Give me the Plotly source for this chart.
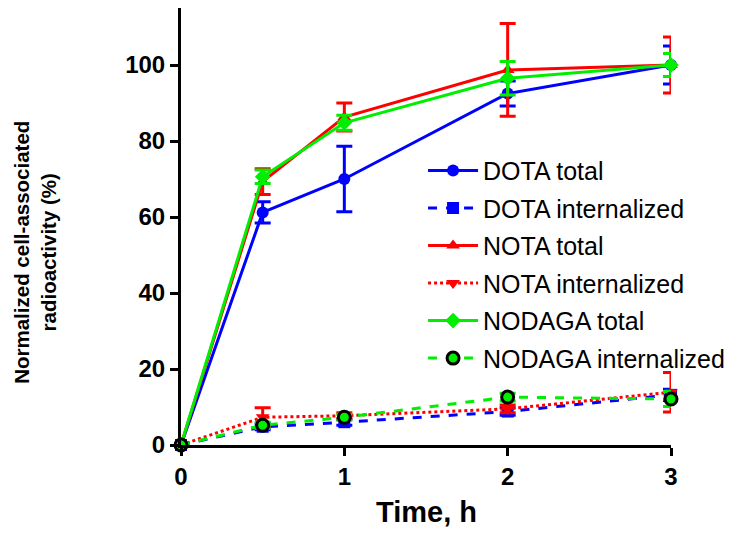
import plotly.graph_objects as go

time_h = [0, 0.5, 1, 2, 3]

dota_total = [0, 61.2, 70.0, 92.5, 100]
dota_total_err = [0, 2.8, 8.6, 3.3, 5.0]
dota_int = [0, 4.8, 6.0, 8.8, 13.2]
dota_int_err = [0, 0.8, 0.8, 1.0, 1.5]

nota_total = [0, 69.3, 86.3, 98.7, 100]
nota_total_err = [0, 3.4, 3.7, 12.2, 7.4]
nota_int = [0, 7.3, 7.7, 9.5, 13.9]
nota_int_err = [0, 2.5, 0.8, 1.0, 5.2]

nodaga_total = [0, 70.6, 84.8, 96.5, 100]
nodaga_total_err = [0, 1.8, 2.0, 4.4, 3.0]
nodaga_int = [0, 5.2, 7.3, 12.6, 12.1]
nodaga_int_err = [0, 0.8, 0.8, 1.0, 2.0]

x_ticks = [0, 1, 2, 3]
y_ticks = [0, 20, 40, 60, 80, 100]

BLUE = "#0000FF"
RED = "#FF0000"
GREEN = "#00EE00"
FONT = "Liberation Sans, Arial, sans-serif"

series = [
    ("DOTA total", dota_total, dota_total_err, BLUE, "solid", "circle", BLUE, 0),
    ("DOTA internalized", dota_int, dota_int_err, BLUE, "dash", "square", BLUE, 0),
    ("NOTA total", nota_total, nota_total_err, RED, "solid", "triangle-up", RED, 0),
    ("NOTA internalized", nota_int, nota_int_err, RED, "dot", "triangle-down", RED, 0),
    ("NODAGA total", nodaga_total, nodaga_total_err, GREEN, "solid", "diamond", GREEN, 0),
    ("NODAGA internalized", nodaga_int, nodaga_int_err, GREEN, "dash", "circle", "black", 3),
]

fig = go.Figure()
for i, (name, y, e, col, dash, sym, lcol, lw) in enumerate(series):
    fig.add_trace(go.Scatter(
        x=time_h, y=y, name=name, mode="lines+markers",
        legendgroup=f"g{i}",
        line=dict(color=col, width=3, dash=dash),
        marker=dict(symbol=sym, size=12, color=col, line=dict(color=lcol, width=lw)),
        error_y=dict(type="data", array=e, visible=True, color=col, thickness=3, width=8),
        cliponaxis=False,
    ))

fig.update_layout(
    width=736, height=530,
    margin=dict(l=173, r=73, t=0, b=93),
    paper_bgcolor="white", plot_bgcolor="white",
    font=dict(family=FONT, color="black"),
    showlegend=True,
    legend=dict(x=0.494, y=0.680, xanchor="left", yanchor="top",
                font=dict(size=25, color="black"), tracegroupgap=2,
                bgcolor="rgba(0,0,0,0)", itemwidth=50),
    xaxis=dict(range=[0, 3], tickvals=x_ticks, showgrid=False, zeroline=False,
               showline=True, linecolor="black", linewidth=3,
               ticks="outside", ticklen=8, tickwidth=2.5, tickcolor="black",
               tickfont=dict(size=24, family=FONT, weight="bold")),
    yaxis=dict(range=[0, 115], tickvals=y_ticks, showgrid=False, zeroline=False,
               showline=True, linecolor="black", linewidth=3,
               ticks="outside", ticklen=8, tickwidth=2.5, tickcolor="black",
               tickfont=dict(size=24, family=FONT, weight="bold")),
    annotations=[
        dict(text="<b>Normalized cell-associated<br>radioactivity (%)</b>",
             xref="paper", yref="paper", x=-0.298, y=0.442, xanchor="center", yanchor="middle",
             textangle=-90, showarrow=False, font=dict(size=20.5, family=FONT, color="black")),
        dict(text="<b>Time, h</b>",
             xref="paper", yref="paper", x=0.5, y=-0.153, xanchor="center", yanchor="middle",
             showarrow=False, font=dict(size=29, family=FONT, color="black")),
    ],
)

fig.write_html("out.html")
